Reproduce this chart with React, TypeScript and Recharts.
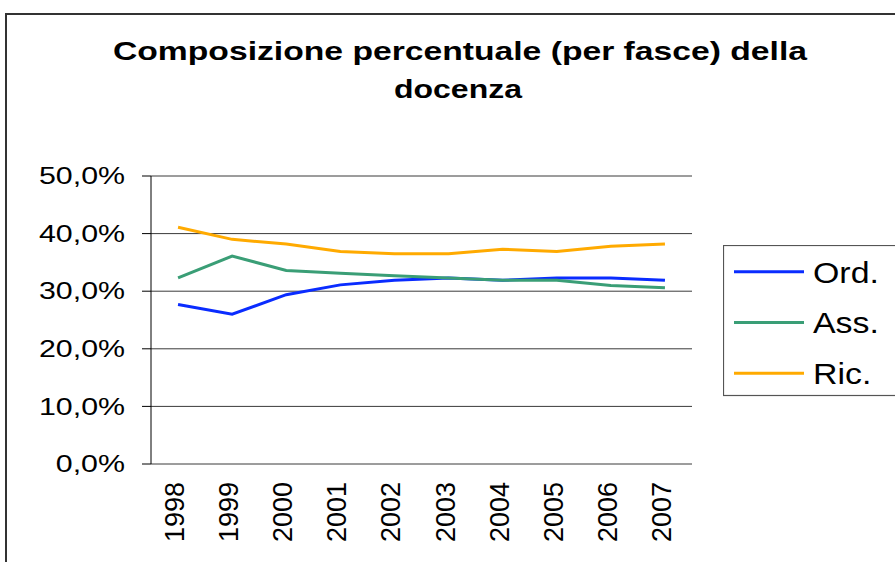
import React from 'react';
import { LineChart, Line, XAxis, YAxis, CartesianGrid, Legend } from 'recharts';

const years = ['1998', '1999', '2000', '2001', '2002', '2003', '2004', '2005', '2006', '2007'];
const ordValues = [27.7, 26.0, 29.4, 31.1, 31.9, 32.3, 31.9, 32.3, 32.3, 31.9];
const assValues = [32.3, 36.1, 33.6, 33.1, 32.7, 32.3, 31.9, 31.9, 31.0, 30.6];
const ricValues = [41.1, 39.0, 38.2, 36.9, 36.5, 36.5, 37.3, 36.9, 37.8, 38.2];
const yTicks = [0, 10, 20, 30, 40, 50];
const titleLines = ['Composizione percentuale (per fasce) della', 'docenza'];

const series = [
  { key: 'ord', name: 'Ord.', color: '#0a2cff', values: ordValues },
  { key: 'ass', name: 'Ass.', color: '#3a9e76', values: assValues },
  { key: 'ric', name: 'Ric.', color: '#ffaa00', values: ricValues },
];

const data = years.map((y, i) => {
  const row: any = { year: y };
  series.forEach((s) => {
    row[s.key] = s.values[i];
  });
  return row;
});

const boundaries = Array.from({ length: years.length + 1 }, (_, i) => i);

const FONT = '"Liberation Sans", Arial, sans-serif';

const fmt = (v: number) => `${v.toFixed(1).replace('.', ',')}%`;

const YTick = (props: any) => {
  const { x, y, payload } = props;
  return (
    <text
      transform={`translate(${x - 15},${y}) scale(1.32,1)`}
      textAnchor="end"
      dy="0.36em"
      fontSize={23}
      fontFamily={FONT}
      fill="#000"
    >
      {fmt(payload.value)}
    </text>
  );
};

const XTick = (props: any) => {
  const { x, y, payload } = props;
  return (
    <text
      transform={`translate(${x + 6},${y + 10}) rotate(-90)`}
      textAnchor="end"
      fontSize={27}
      fontFamily={FONT}
      fill="#000"
    >
      {payload.value}
    </text>
  );
};

const LegendContent = (props: any) => {
  const payload = props.payload || [];
  const ordered = series
    .map((s) => payload.find((p: any) => p.value === s.name))
    .filter(Boolean);
  return (
    <svg width={200} height={152} style={{ display: 'block' }}>
      <rect x={0.5} y={0.5} width={240} height={150} fill="#fff" stroke="#555" strokeWidth={1.2} />
      {ordered.map((p: any, i: number) => {
        const cy = 26.7 + i * 50.8;
        return (
          <g key={p.value}>
            <line x1={11} x2={81} y1={cy} y2={cy} stroke={p.color} strokeWidth={3} />
            <text
              transform={`translate(90,${cy}) scale(1.13,1)`}
              dy="0.36em"
              fontSize={30}
              fontFamily={FONT}
              fill="#000"
            >
              {p.value}
            </text>
          </g>
        );
      })}
    </svg>
  );
};

export default function App() {
  return (
    <div
      style={{
        position: 'absolute',
        left: 0,
        top: 0,
        width: 895,
        height: 562,
        overflow: 'hidden',
        background: '#fff',
      }}
    >
      <div
        style={{
          position: 'absolute',
          left: 5,
          top: 13,
          width: 1000,
          height: 1000,
          borderLeft: '2px solid #333',
          borderTop: '2px solid #333',
        }}
      />
      <svg
        width={895}
        height={120}
        style={{ position: 'absolute', left: 0, top: 0 }}
      >
        <text
          x={460}
          y={60}
          textAnchor="middle"
          fontSize={26}
          fontWeight="bold"
          fontFamily={FONT}
          textLength={694}
          lengthAdjust="spacingAndGlyphs"
        >
          {titleLines[0]}
        </text>
        <text
          x={458}
          y={98}
          textAnchor="middle"
          fontSize={26}
          fontWeight="bold"
          fontFamily={FONT}
          textLength={128}
          lengthAdjust="spacingAndGlyphs"
        >
          {titleLines[1]}
        </text>
      </svg>
      <div style={{ position: 'absolute', left: 0, top: 0 }}>
        <LineChart
          width={895}
          height={562}
          data={data}
          margin={{ top: 176, right: 203, bottom: 8, left: 51 }}
        >
          <CartesianGrid vertical={false} stroke="#3a3a3a" strokeWidth={1} />
          <XAxis
            xAxisId="b"
            type="number"
            domain={[0, years.length]}
            ticks={boundaries}
            allowDataOverflow
            height={0}
            tick={false}
            tickSize={7}
            tickLine={{ stroke: '#000' }}
            axisLine={{ stroke: '#555', strokeWidth: 1.5 }}
          />
          <XAxis
            dataKey="year"
            scale="band"
            height={90}
            interval={0}
            tickLine={false}
            axisLine={false}
            tick={<XTick />}
          />
          <YAxis
            domain={[0, 50]}
            ticks={yTicks}
            width={100}
            tickSize={9}
            tickLine={{ stroke: '#000' }}
            axisLine={{ stroke: '#000' }}
            tick={<YTick />}
          />
          <YAxis
            yAxisId="r"
            orientation="right"
            domain={[0, 50]}
            width={0}
            tick={false}
            tickLine={false}
            axisLine={{ stroke: '#b8b8b8', strokeWidth: 2 }}
          />
          <Legend
            layout="vertical"
            align="center"
            verticalAlign="middle"
            content={<LegendContent />}
            wrapperStyle={{ left: 723, top: 245, width: 200, height: 152 }}
          />
          {series.map((s) => (
            <Line
              key={s.key}
              type="linear"
              dataKey={s.key}
              name={s.name}
              stroke={s.color}
              strokeWidth={3}
              dot={false}
              activeDot={false}
              isAnimationActive={false}
            />
          ))}
        </LineChart>
      </div>
    </div>
  );
}
